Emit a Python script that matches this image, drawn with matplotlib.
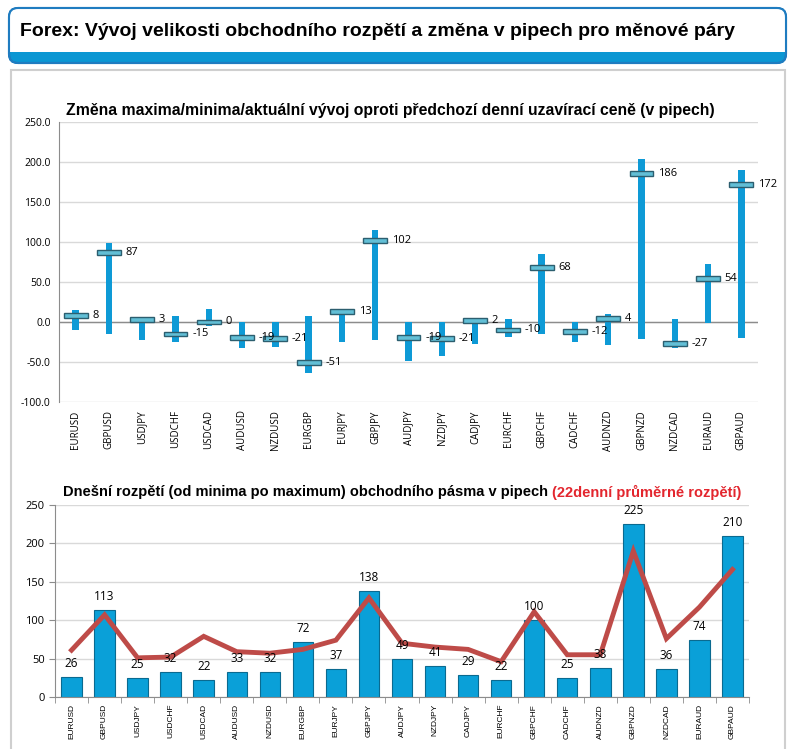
import matplotlib
matplotlib.use("Agg")
import matplotlib.pyplot as plt
from matplotlib.patches import FancyBboxPatch, Rectangle
import numpy as np

# data
pairs = ['EURUSD', 'GBPUSD', 'USDJPY', 'USDCHF', 'USDCAD', 'AUDUSD', 'NZDUSD',
         'EURGBP', 'EURJPY', 'GBPJPY', 'AUDJPY', 'NZDJPY', 'CADJPY', 'EURCHF',
         'GBPCHF', 'CADCHF', 'AUDNZD', 'GBPNZD', 'NZDCAD', 'EURAUD', 'GBPAUD']
high = [15, 99, 4, 7, 16, 0, 0, 8, 15, 115, 0, 0, 3, 4, 85, 0, 10, 204, 4, 73, 190]
low = [-10, -15, -22, -25, -5, -33, -31, -64, -25, -22, -49, -42, -28, -19,
       -15, -25, -29, -21, -33, -1, -20]
current = [8, 87, 3, -15, 0, -19, -21, -51, 13, 102, -19, -21, 2, -10, 68,
           -12, 4, 186, -27, 54, 172]
today_range = [26, 113, 25, 32, 22, 33, 32, 72, 37, 138, 49, 41, 29, 22, 100,
               25, 38, 225, 36, 74, 210]
avg22 = [61, 107, 51, 52, 79, 59, 57, 62, 74, 129, 70, 65, 62, 46, 111, 55,
         55, 190, 76, 117, 166]

W, H = 795, 749
fig = plt.figure(figsize=(W / 100, H / 100), dpi=100)

# background in pixel coords
bg = fig.add_axes([0, 0, 1, 1])
bg.set_xlim(0, W)
bg.set_ylim(H, 0)
bg.axis('off')

panel = Rectangle((11, 70), 774, 700, facecolor='white', edgecolor='#cfcfcf', lw=1.5)
bg.add_patch(panel)

head = FancyBboxPatch((9, 8), 777, 55, boxstyle='round,pad=0,rounding_size=9',
                      facecolor='#0b97d3', edgecolor='#1f7cc0', lw=1.5)
bg.add_patch(head)
white = Rectangle((9, 8), 777, 44, facecolor='white', edgecolor='none')
bg.add_patch(white)
white.set_clip_path(head)
edge = FancyBboxPatch((9, 8), 777, 55, boxstyle='round,pad=0,rounding_size=9',
                      facecolor='none', edgecolor='#1f7cc0', lw=1.5)
bg.add_patch(edge)
bg.text(20, 32, 'Forex: Vývoj velikosti obchodního rozpětí a změna v pipech pro měnové páry',
        fontsize=14, fontweight='bold', family='Liberation Sans', va='center', ha='left')

x = np.arange(len(pairs))

# top chart
ax1 = fig.add_axes([59 / W, 1 - 402 / H, 699 / W, 280 / H])
ax1.set_xlim(-0.5, len(pairs) - 0.5)
ax1.set_ylim(-100, 250)
ax1.set_yticks(np.arange(-100, 251, 50))
ax1.set_yticklabels(['%.1f' % v for v in np.arange(-100, 251, 50)],
                    fontsize=7.5, family='Open Sans')
ax1.grid(axis='y', color='#d9d9d9', lw=1)
ax1.axhline(0, color='#8c8c8c', lw=1, zorder=1)
ax1.set_axisbelow(True)
for s in ['top', 'right', 'bottom']:
    ax1.spines[s].set_visible(False)
ax1.spines['left'].set_color('#8c8c8c')
ax1.tick_params(axis='y', length=0, pad=6)
ax1.tick_params(axis='x', length=0, pad=6)
ax1.set_xticks(x)
ax1.set_xticklabels(pairs, rotation=90, fontsize=7, family='Open Sans')

hi = np.array(high)
lo = np.array(low)
cur = np.array(current)
ax1.bar(x, hi - lo, bottom=lo, width=0.19, color='#0e9ad6', zorder=2)
ax1.bar(x, 6, bottom=cur - 3, width=0.72, color='#62bfd6', edgecolor='#2c5e6f',
        lw=1, zorder=3)
for xi, c in zip(x, current):
    ax1.text(xi + 0.5, c, str(c), fontsize=8, family='Open Sans', va='center',
             ha='left', zorder=4)
fig.text(66 / W, 1 - 111 / H,
         'Změna maxima/minima/aktuální vývoj oproti předchozí denní uzavírací ceně (v pipech)',
         fontsize=11.3, fontweight='bold', family='Liberation Sans', va='center', ha='left')

# bottom chart
ax2 = fig.add_axes([55 / W, 1 - 697 / H, 694 / W, 192 / H])
ax2.set_xlim(-0.5, len(pairs) - 0.5)
ax2.set_ylim(0, 250)
ax2.set_yticks(np.arange(0, 251, 50))
ax2.tick_params(axis='y', labelsize=8, length=4, color='#8c8c8c')
for lab in ax2.get_yticklabels():
    lab.set_family('Open Sans')
ax2.grid(axis='y', color='#d9d9d9', lw=1)
ax2.set_axisbelow(True)
for s in ['top', 'right']:
    ax2.spines[s].set_visible(False)
ax2.spines['left'].set_color('#8c8c8c')
ax2.spines['bottom'].set_color('#8c8c8c')
ax2.set_xticks(x)
ax2.set_xticklabels(pairs, rotation=90, fontsize=6, family='Liberation Sans')
ax2.set_xticks(np.arange(-0.5, len(pairs), 1), minor=True)
ax2.tick_params(axis='x', which='major', length=0, pad=5)
ax2.tick_params(axis='x', which='minor', length=4, color='#8c8c8c')

ax2.bar(x, today_range, width=0.62, color='#0aa0d8', edgecolor='#0a6a90', lw=0.8, zorder=2)
ax2.plot(x, avg22, color='#be4b48', lw=3.5, zorder=3, solid_joinstyle='miter')
for xi, v in zip(x, today_range):
    ax2.annotate(str(v), (xi, v), xytext=(0, 5), textcoords='offset points',
                 ha='center', va='bottom', fontsize=8.5, family='Open Sans', zorder=4)

t1 = fig.text(63 / W, 1 - 492 / H,
              'Dnešní rozpětí (od minima po maximum) obchodního pásma v pipech ',
              fontsize=10.5, fontweight='bold', family='Liberation Sans', va='center', ha='left')
fig.canvas.draw()
bb = t1.get_window_extent()
fig.text(bb.x1 / W, 1 - 492 / H, '(22denní průměrné rozpětí)', fontsize=10.5,
         fontweight='bold', family='Liberation Sans', color='#e3262e',
         va='center', ha='left')

fig.savefig('out.png', dpi=100)
